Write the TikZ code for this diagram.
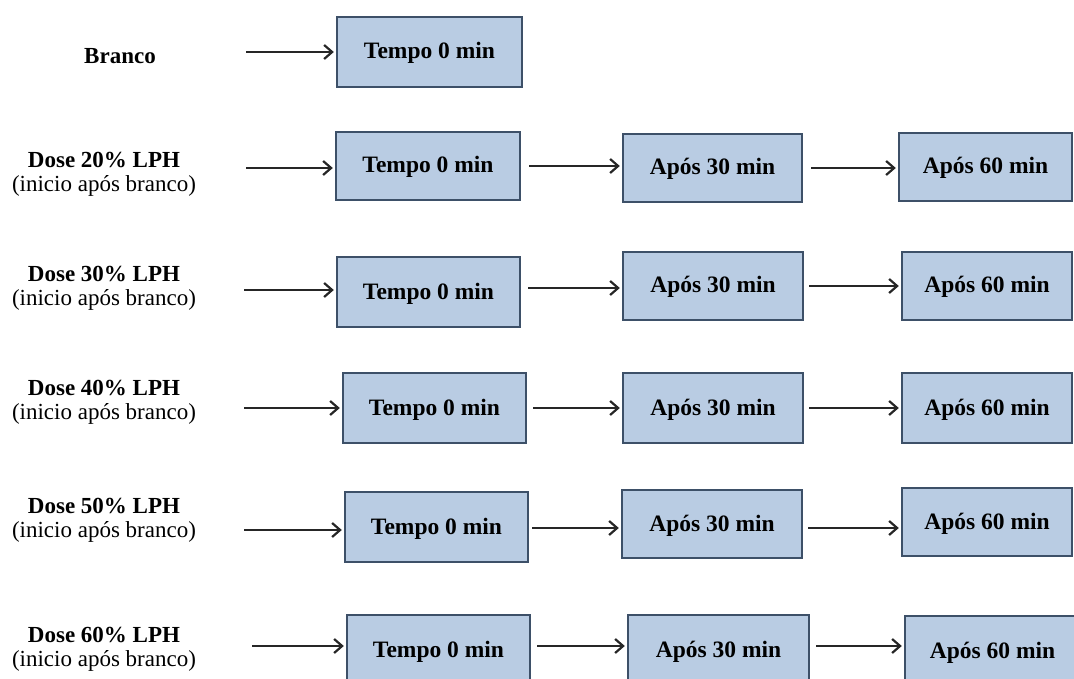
\documentclass[tikz,border=0pt]{standalone}
\usepackage{fontspec}
\setmainfont{Liberation Serif}
\usetikzlibrary{arrows.meta}
\definecolor{boxfill}{HTML}{B9CCE3}
\definecolor{boxline}{HTML}{3D5068}
\definecolor{arrcol}{HTML}{262626}
\tikzset{
  stagebox/.style={draw=boxline, fill=boxfill, line width=2.4pt, inner sep=0pt,
    text height=16pt, text depth=2pt,
    font=\fontsize{23.5}{25}\selectfont\bfseries},
  doselabel/.style={align=center, inner sep=0pt, font=\fontsize{23}{24}\selectfont},
  arr/.style={draw=arrcol, line width=2.2pt, -{Straight Barb[length=8pt,width=14pt,line width=2.2pt]}, shorten >=2pt}
}
\begin{document}
\begin{tikzpicture}[x=1pt,y=-1pt]
\useasboundingbox (0,0) rectangle (1074,679);
\clip (0,0) rectangle (1074,679);
% labels
\node[doselabel] (l1) at (120,56) {\textbf{Branco}};
\node[doselabel] (l2) at (104,174) {\textbf{Dose 20\% LPH}\\(inicio após branco)};
\node[doselabel] (l3) at (104,288) {\textbf{Dose 30\% LPH}\\(inicio após branco)};
\node[doselabel] (l4) at (104,402) {\textbf{Dose 40\% LPH}\\(inicio após branco)};
\node[doselabel] (l5) at (104,520) {\textbf{Dose 50\% LPH}\\(inicio após branco)};
\node[doselabel] (l6) at (104,649) {\textbf{Dose 60\% LPH}\\(inicio após branco)};
% row 1
\node[stagebox, minimum width=185pt, minimum height=70pt] (a1) at (429.5,52) {Tempo 0 min};
% row 2
\node[stagebox, minimum width=184pt, minimum height=68pt] (b1) at (428,166) {Tempo 0 min};
\node[stagebox, minimum width=179pt, minimum height=68pt] (b2) at (712.5,168) {Após 30 min};
\node[stagebox, minimum width=173pt, minimum height=68pt] (b3) at (985.5,167) {Após 60 min};
% row 3
\node[stagebox, minimum width=183pt, minimum height=70pt] (c1) at (428.5,292) {Tempo 0 min};
\node[stagebox, minimum width=180pt, minimum height=68pt] (c2) at (713,286) {Após 30 min};
\node[stagebox, minimum width=170pt, minimum height=68pt] (c3) at (987,286) {Após 60 min};
% row 4
\node[stagebox, minimum width=183pt, minimum height=70pt] (d1) at (434.5,408) {Tempo 0 min};
\node[stagebox, minimum width=180pt, minimum height=70pt] (d2) at (713,408) {Após 30 min};
\node[stagebox, minimum width=170pt, minimum height=70pt] (d3) at (987,408) {Após 60 min};
% row 5
\node[stagebox, minimum width=183pt, minimum height=70pt] (e1) at (436.5,527) {Tempo 0 min};
\node[stagebox, minimum width=180pt, minimum height=68pt] (e2) at (712,524) {Após 30 min};
\node[stagebox, minimum width=170pt, minimum height=68pt] (e3) at (987,522) {Após 60 min};
% row 6
\node[stagebox, minimum width=183pt, minimum height=70pt] (f1) at (438.5,650) {Tempo 0 min};
\node[stagebox, minimum width=181pt, minimum height=70pt] (f2) at (718.5,650) {Após 30 min};
\node[stagebox, minimum width=175pt, minimum height=70pt] (f3) at (992.5,651) {Após 60 min};
% start points
\coordinate (s1) at (246,52);
\coordinate (s2) at (246,168);
\coordinate (s3) at (244,290);
\coordinate (s4) at (244,408);
\coordinate (s5) at (244,530);
\coordinate (s6) at (252,646);
% arrows
\draw[arr] (s1) -- (s1 -| a1.west);
\draw[arr] (s2) -- (s2 -| b1.west);
\draw[arr] ([xshift=8pt]b1.east) -- (b1.east -| b2.west);
\draw[arr] ([xshift=8pt]b2.east) -- (b2.east -| b3.west);
\draw[arr] (s3) -- (s3 -| c1.west);
\draw[arr] ([xshift=7pt]c1.east |- 0,288) -- (c2.west |- 0,288);
\draw[arr] ([xshift=5pt]c2.east) -- (c2.east -| c3.west);
\draw[arr] (s4) -- (s4 -| d1.west);
\draw[arr] ([xshift=6pt]d1.east) -- (d1.east -| d2.west);
\draw[arr] ([xshift=5pt]d2.east) -- (d2.east -| d3.west);
\draw[arr] (s5) -- (s5 -| e1.west);
\draw[arr] ([xshift=3pt]e1.east |- 0,528) -- (e2.west |- 0,528);
\draw[arr] ([xshift=5pt]e2.east |- 0,528) -- (e3.west |- 0,528);
\draw[arr] (s6) -- (s6 -| f1.west);
\draw[arr] ([xshift=6pt]f1.east |- 0,646) -- (f2.west |- 0,646);
\draw[arr] ([xshift=6pt]f2.east |- 0,646) -- (f3.west |- 0,646);
\end{tikzpicture}
\end{document}
